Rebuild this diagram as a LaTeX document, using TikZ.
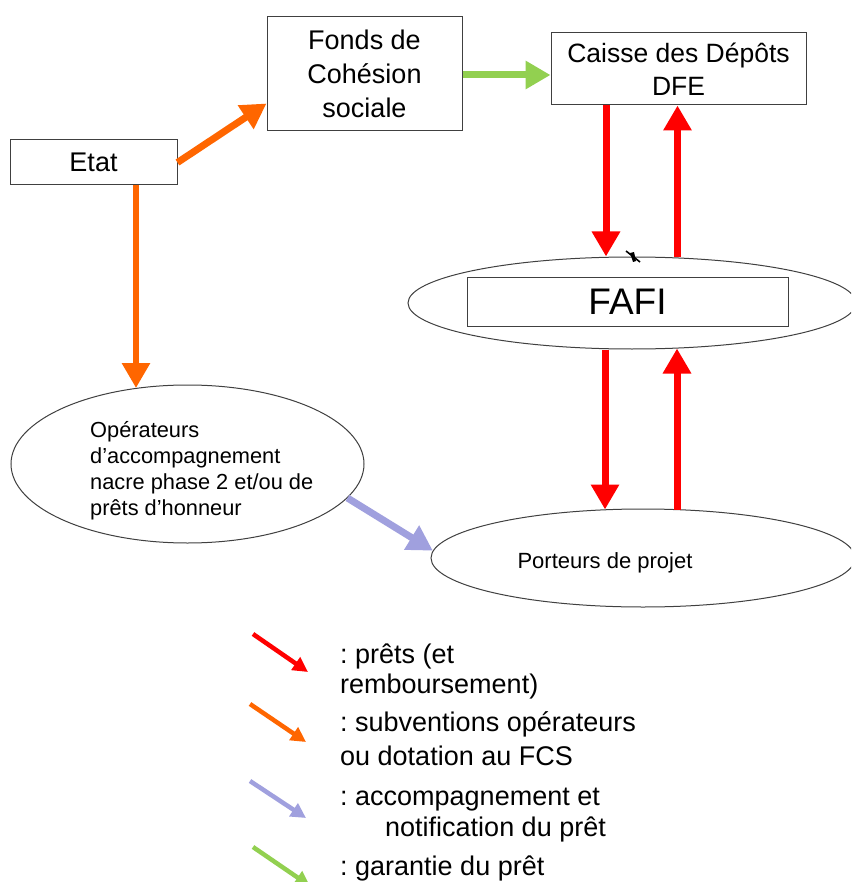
\documentclass[tikz,border=0pt]{standalone}
\usepackage{fontspec}
\setmainfont{Liberation Sans}
\usetikzlibrary{arrows.meta,shapes.geometric}
\definecolor{cred}{HTML}{FF0000}
\definecolor{corange}{HTML}{FF6600}
\definecolor{clav}{HTML}{A0A0DE}
\definecolor{cgreen}{HTML}{92D050}
\definecolor{cbord}{HTML}{404040}
\tikzset{
  boxnode/.style={draw=cbord, line width=1pt, rectangle, inner sep=0pt, align=center},
  ellnode/.style={draw=cbord, line width=1pt, ellipse, inner sep=0pt},
  bigarrow/.style={line width=7pt, -{Triangle[length=25pt,width=27pt]}},
  legarrow/.style={line width=4.5pt, -{Triangle[length=15pt,width=15pt]}},
  legtext/.style={anchor=base west, inner sep=0pt, font=\fontsize{27}{30}\selectfont},
}
\begin{document}
\frenchspacing
\begin{tikzpicture}[x=1pt,y=-1pt]
\useasboundingbox (0,0) rectangle (851,882);
\clip (0,0) rectangle (851,882);
\fill[white] (0,0) rectangle (851,882);

% boxes
\node[boxnode, minimum width=167pt, minimum height=45pt, font=\fontsize{27}{34}\selectfont] (etat) at (93.5,162.5) {Etat};
\node[boxnode, minimum width=195pt, minimum height=114pt, font=\fontsize{27}{34}\selectfont] (fonds) at (364.5,74) {Fonds de\\Cohésion\\sociale};
\node[boxnode, minimum width=255pt, minimum height=72pt, font=\fontsize{26.5}{33}\selectfont] (caisse) at (678.5,69) {Caisse des Dépôts\\DFE};

% ellipses
\node[ellnode, minimum width=448pt, minimum height=92pt] (fafi) at (632,303) {};
\node[boxnode, minimum width=321pt, minimum height=49pt, font=\fontsize{37}{40}\selectfont] (fafibox) at (627.5,301.5) {FAFI};
\node[ellnode, minimum width=353pt, minimum height=158pt] (op) at (187.5,464) {};
\node[anchor=north west, inner sep=0pt, align=left, font=\fontsize{21.8}{26}\selectfont] (optext) at (90,421) {Opérateurs\\d’accompagnement\\nacre phase 2 et/ou de\\prêts d’honneur};
\node[ellnode, minimum width=424pt, minimum height=98pt] (port) at (643,558) {};
\node[anchor=base, inner sep=0pt, font=\fontsize{22}{26}\selectfont] (porttext) at (605,568) {Porteurs de projet};

% arrows
\draw[bigarrow, corange, line width=7pt] (etat.east) -- ([yshift=28pt]fonds.south west);
\draw[bigarrow, corange, line width=6pt] ([xshift=42.5pt]etat.south) -- ([xshift=-51.5pt,yshift=-3.5pt]op.north);
\draw[bigarrow, cgreen] ([yshift=-1pt]fonds.east) -- ([yshift=-1pt]fonds.east -| caisse.west);
\draw[bigarrow, cred] ([xshift=-72.5pt]caisse.south) -- ([xshift=-26pt]fafi.north);
\draw[bigarrow, cred] ([xshift=45.5pt,yshift=-1pt]fafi.north) -- ([xshift=-1pt]caisse.south);
\draw[bigarrow, cred] ([xshift=-27pt]fafi.south) -- ([xshift=-38pt,yshift=-1pt]port.north);
\draw[bigarrow, cred] ([xshift=34pt,yshift=-1pt]port.north) -- ([xshift=45pt,yshift=1pt]fafi.south);
\draw[bigarrow, clav] (op.-12) -- (port.178.5);

% small mark
\draw[line width=1.6pt, black] (626,251) -- (640,262);
\fill[black] (630,253) -- (634,252) -- (636,261) -- (633,262) -- cycle;

% legend
\coordinate (l1a) at (253,634); \coordinate (l1b) at (308,672);
\coordinate (l2a) at (250,704); \coordinate (l2b) at (306,742);
\coordinate (l3a) at (250,781); \coordinate (l3b) at (306,818);
\coordinate (l4a) at (253,847); \coordinate (l4b) at (310,886);
\draw[legarrow, cred] (l1a) -- (l1b);
\draw[legarrow, corange] (l2a) -- (l2b);
\draw[legarrow, clav] (l3a) -- (l3b);
\draw[legarrow, cgreen] (l4a) -- (l4b);

\node[legtext] (t1) at (340,663) {: prêts (et};
\node[legtext] (t2) at (340,693) {remboursement)};
\node[legtext] (t3) at (340,731) {: subventions opérateurs};
\node[legtext] (t4) at (340,765) {ou dotation au FCS};
\node[legtext] (t5) at (340,805) {: accompagnement et};
\node[legtext] (t6) at (385,836) {notification du prêt};
\node[legtext] (t7) at (340,875) {: garantie du prêt};
\end{tikzpicture}
\end{document}
